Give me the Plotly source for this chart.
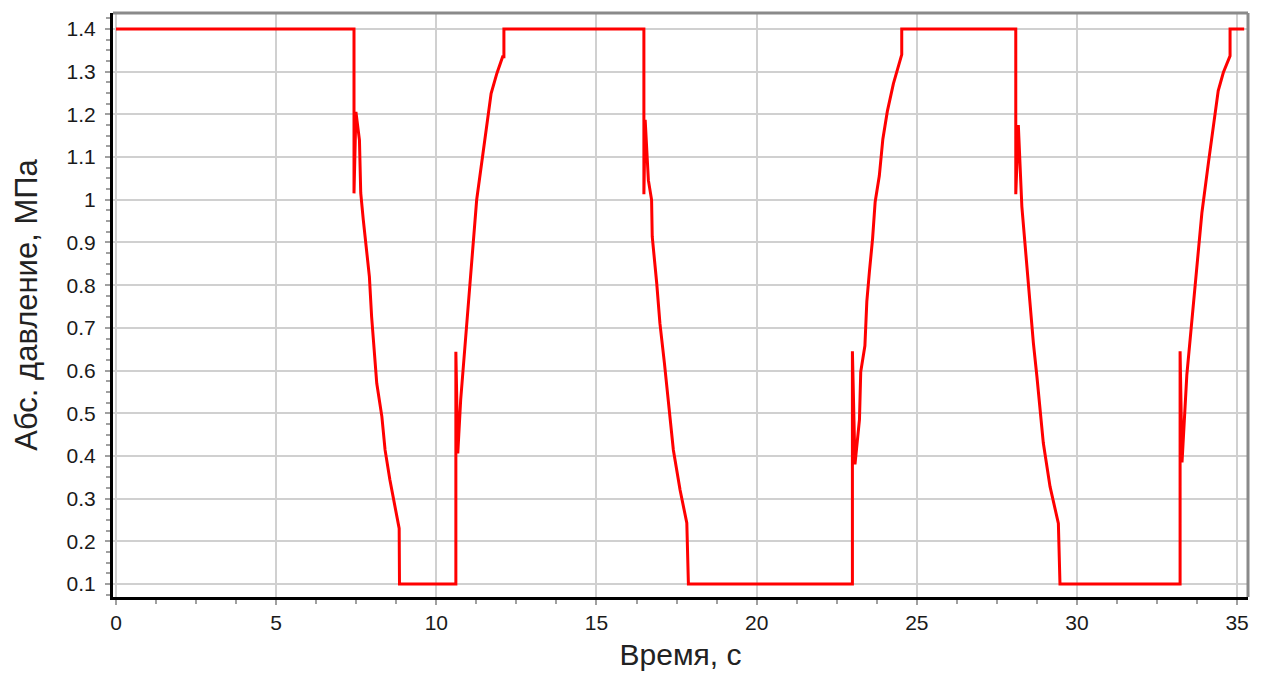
import plotly.graph_objects as go

# Time axis (s) and absolute pressure (MPa)
time_s = [
    0, 7.43, 7.43, 7.49, 7.60, 7.64, 7.72, 7.81, 7.91, 7.98, 8.03, 8.14, 8.30, 8.40,
    8.55, 8.71, 8.84, 8.85, 10.61, 10.61, 10.67, 10.76, 10.84, 10.90, 10.97, 11.03,
    11.16, 11.26, 11.45, 11.57, 11.71, 11.89, 12.07, 12.11, 12.11,
    16.48, 16.48, 16.52, 16.62, 16.72, 16.74, 16.88, 16.98, 17.12, 17.24, 17.40,
    17.61, 17.82, 17.87,
    22.99, 22.99, 23.07, 23.21, 23.25, 23.38, 23.44, 23.52, 23.62, 23.70, 23.83,
    23.94, 24.08, 24.27, 24.48, 24.53, 24.53,
    28.09, 28.09, 28.17, 28.28, 28.43, 28.53, 28.64, 28.75, 28.85, 28.95, 29.16,
    29.42, 29.47,
    33.22, 33.22, 33.28, 33.43, 33.64, 33.90, 34.11, 34.28, 34.41, 34.57, 34.78,
    34.78, 35.22,
]
pressure_mpa = [
    1.4, 1.4, 1.015, 1.206, 1.14, 1.016, 0.953, 0.89, 0.82, 0.726, 0.672, 0.57, 0.492, 0.414,
    0.344, 0.281, 0.23, 0.1, 0.1, 0.644, 0.406, 0.531, 0.609, 0.656, 0.726, 0.80,
    0.906, 1.0, 1.101, 1.171, 1.249, 1.296, 1.335, 1.335, 1.4,
    1.4, 1.013, 1.187, 1.046, 1.0, 0.914, 0.805, 0.711, 0.618, 0.524, 0.414,
    0.32, 0.243, 0.1,
    0.1, 0.645, 0.38, 0.485, 0.597, 0.658, 0.762, 0.831, 0.909, 0.995, 1.056,
    1.142, 1.207, 1.272, 1.324, 1.34, 1.4,
    1.4, 1.013, 1.175, 0.984, 0.851, 0.758, 0.664, 0.586, 0.508, 0.43, 0.328,
    0.242, 0.1,
    0.1, 0.645, 0.385, 0.589, 0.762, 0.969, 1.09, 1.19, 1.255, 1.298, 1.337,
    1.4, 1.4,
]

x_ticks = [0, 5, 10, 15, 20, 25, 30, 35]
y_ticks = [0.1, 0.2, 0.3, 0.4, 0.5, 0.6, 0.7, 0.8, 0.9, 1.0, 1.1, 1.2, 1.3, 1.4]
y_tick_labels = ["0.1", "0.2", "0.3", "0.4", "0.5", "0.6", "0.7", "0.8", "0.9",
                 "1", "1.1", "1.2", "1.3", "1.4"]

x_title = "Время, с"
y_title = "Абс. давление, МПа"

FONT = "Liberation Sans, Arial, sans-serif"
GRID = "#d0d0d0"
TICK = "#a0a0a0"

fig = go.Figure()
fig.add_trace(go.Scatter(
    x=time_s, y=pressure_mpa, mode="lines",
    line=dict(color="#ff0000", width=3),
    showlegend=False, hoverinfo="x+y",
))

fig.update_layout(
    width=1261, height=669,
    margin=dict(l=105, r=21, t=5, b=80, autoexpand=False),
    paper_bgcolor="white", plot_bgcolor="white",
    font=dict(family=FONT, color="#222222"),
    xaxis=dict(
        range=[-0.094, 35.34],
        automargin=False,
        tickvals=x_ticks,
        ticks="outside", ticklen=5, tickwidth=2, tickcolor=TICK,
        tickfont=dict(size=21, family=FONT, color="#1a1a1a"),
        showgrid=True, gridcolor=GRID, gridwidth=2,
        zeroline=False,
        showline=True, linecolor="black", linewidth=3,
        minor=dict(dtick=1.25, tick0=0, ticks="outside", ticklen=4, tickwidth=2,
                   tickcolor=TICK, showgrid=False),
        title=dict(text=x_title, font=dict(size=30, family=FONT, color="#222222"),
                   standoff=11),
    ),
    yaxis=dict(
        range=[0.0695, 1.4375],
        automargin=False,
        tickvals=y_ticks, ticktext=y_tick_labels,
        ticks="outside", ticklen=5, tickwidth=2, tickcolor=TICK,
        ticklabelstandoff=5,
        tickfont=dict(size=21, family=FONT, color="#1a1a1a"),
        showgrid=True, gridcolor=GRID, gridwidth=2,
        zeroline=False,
        showline=True, linecolor="black", linewidth=3,
        minor=dict(dtick=0.025, tick0=0.1, ticks="outside", ticklen=4, tickwidth=2,
                   tickcolor=TICK, showgrid=False),
        title=dict(text=y_title, font=dict(size=31, family=FONT, color="#222222"),
                   standoff=20),
    ),
    shapes=[
        dict(type="line", xref="paper", yref="paper", x0=0, x1=1, y0=1, y1=1,
             line=dict(color="#8a8a8a", width=3)),
        dict(type="line", xref="paper", yref="paper", x0=1, x1=1, y0=0, y1=1,
             line=dict(color="#8a8a8a", width=3)),
    ],
)

fig.write_html("out.html")
